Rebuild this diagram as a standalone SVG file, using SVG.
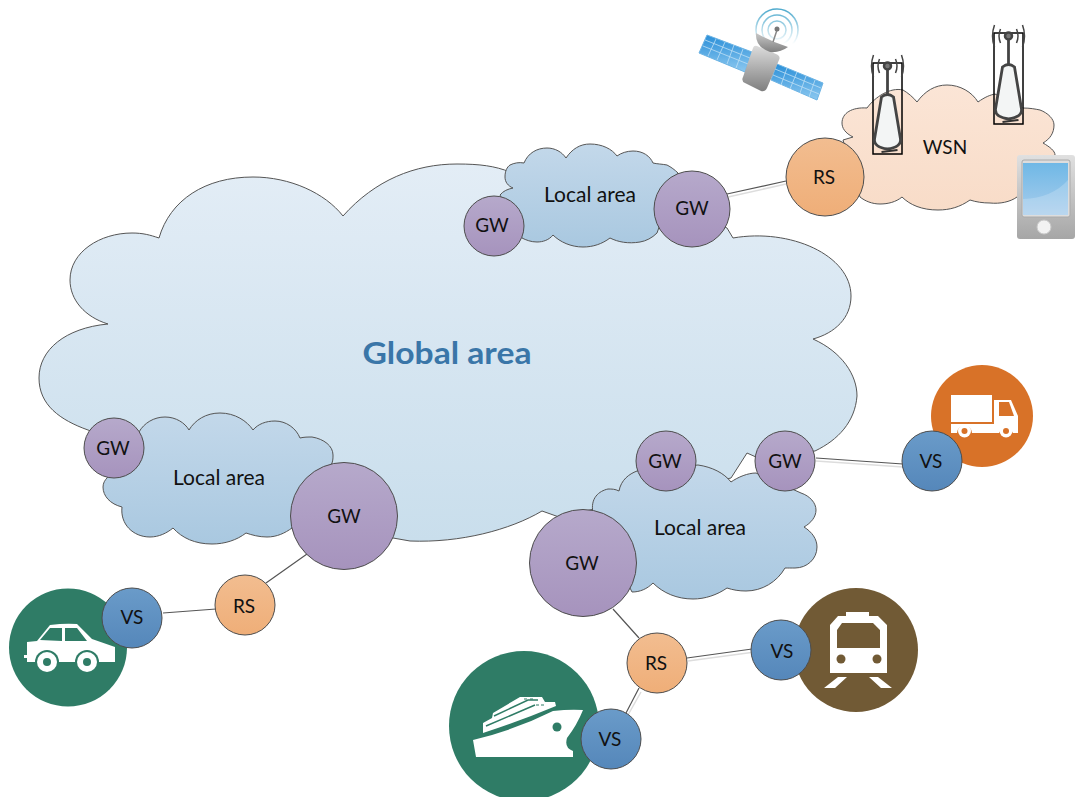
<svg xmlns="http://www.w3.org/2000/svg" width="1081" height="797" viewBox="0 0 1081 797">
<style>
text{font-family:Lato,"Open Sans","Liberation Sans",sans-serif;font-size:19px;fill:#111;text-anchor:middle}
.la{font-size:21px}
.n{stroke:#4d4d4d;stroke-width:1}
.c{stroke:#555;stroke-width:1.2;fill:none}
.p{stroke:#ddd;stroke-width:1.500;fill:none}
.w{fill:#fff}
.cl{stroke:#555;stroke-width:1;stroke-linejoin:miter}
</style>
<defs>
<linearGradient id="gG" x1="0" y1="0" x2="0" y2="1"><stop offset="0" stop-color="#e3edf6"/><stop offset="1" stop-color="#c9deec"/></linearGradient>
<linearGradient id="gL" x1="0" y1="0" x2="0" y2="1"><stop offset="0" stop-color="#c3d8ea"/><stop offset="1" stop-color="#a9c8e0"/></linearGradient>
<linearGradient id="gW" x1="0" y1="0" x2="0" y2="1"><stop offset="0" stop-color="#fbe5d6"/><stop offset="1" stop-color="#f8dcc8"/></linearGradient>
<linearGradient id="gP" x1="0" y1="0" x2="0" y2="1"><stop offset="0" stop-color="#b6a9cb"/><stop offset="1" stop-color="#a693bd"/></linearGradient>
<linearGradient id="gO" x1="0" y1="0" x2="0" y2="1"><stop offset="0" stop-color="#f2bd90"/><stop offset="1" stop-color="#efae78"/></linearGradient>
<linearGradient id="gB" x1="0" y1="0" x2="0" y2="1"><stop offset="0" stop-color="#6a9bc9"/><stop offset="1" stop-color="#5587ba"/></linearGradient>
<linearGradient id="gS" x1="0" y1="0" x2="0" y2="1"><stop offset="0" stop-color="#dcdcdc"/><stop offset="1" stop-color="#7f7f7f"/></linearGradient>
<linearGradient id="gDish" x1="0" y1="0" x2="0" y2="1"><stop offset="0" stop-color="#c8c8c8"/><stop offset="1" stop-color="#808080"/></linearGradient>
<linearGradient id="gT" x1="0" y1="0" x2="0" y2="1"><stop offset="0" stop-color="#6fb8e6"/><stop offset="1" stop-color="#a9cdec"/></linearGradient>
<linearGradient id="gD" x1="0" y1="0" x2="0" y2="1"><stop offset="0" stop-color="#e0e0e0"/><stop offset="1" stop-color="#a6a6a6"/></linearGradient>
<linearGradient id="gPanel" x1="0" y1="0" x2="0" y2="1"><stop offset="0" stop-color="#2a8fd8"/><stop offset="1" stop-color="#8cc8f0"/></linearGradient>
<linearGradient id="gRing" gradientUnits="userSpaceOnUse" x1="0" y1="8" x2="0" y2="44"><stop offset="0" stop-color="#4aa8cc"/><stop offset="1" stop-color="#fff"/></linearGradient>
<g id="tower">
<rect x="-14.500" y="0" width="29" height="91" fill="none" stroke="#000" stroke-width="1.500"/>
<path d="M-6 34Q0 29 6 34L13 76Q14 84 0 86Q-14 84-13 76Z" fill="#f3f5f5" stroke="#444" stroke-width="2.800"/>
<path d="M0 5V31" stroke="#444" stroke-width="2.800"/>
<circle cx="0" cy="3" r="3.500" fill="#777" stroke="#444" stroke-width="2.500"/>
<path d="M-8-4Q-11 3-8 10M8-4Q11 3 8 10M-14-8Q-18 3-14 14M14-8Q18 3 14 14" fill="none" stroke="#444" stroke-width="1.500"/>
<path d="M-6 89L10 87" stroke="#333" stroke-width="2"/>
</g>
</defs>

<g id="global-cloud"><path class="cl" fill="url(#gG)" d="M343 216C375 180 415 164 457 164C480 164 495 166 510 172L660 200L727 228L733 238C790 228 851 255 851 296C851 318 835 333 813 339C842 352 857 375 857 396C855 422 838 440 815 451L756 457L747 453L731 478L559 517L542 511C510 530 460 543 410 541L393 538L88 430C60 420 39 405 39 378C39 350 65 328 108 324C85 317 70 300 70 280C70 252 100 233 132 233C143 233 150 235 159 238C170 200 205 177 253 177C290 177 325 193 343 216Z"/><text x="447" y="364" textLength="169" lengthAdjust="spacingAndGlyphs" style="font-size:30px;font-weight:700;fill:#3a76a8">Global area</text></g>

<g id="wsn-cloud"><path class="cl" fill="url(#gW)" d="M843 140L853 137C845 133 842 128 842 123C842 113 852 107 867 108C875 97 890 87 903 90C908 93 913 97 917 102C925 91 935 85 947 85C960 85 972 92 978 102C985 97 990 95 995 94L1023 108C1030 108 1035 109 1040 110C1048 113 1054 119 1054 125C1054 133 1050 139 1043 143C1050 147 1055 151 1055 155L1017 197C1010 202 1000 204 990 203C983 203 976 202 970 200C960 207 950 210 938 210C922 210 910 205 902 197C896 202 888 204 880 204C872 204 865 201 860 197Z"/><text x="945" y="154">WSN</text></g>

<g id="local-top"><path class="cl" fill="url(#gL)" d="M500 195C503 191 508 189 513 188C508 186 505 182 505 177C505 171 507 167 510 165C514 163 519 162 524 163C528 153 537 148 547 148C555 148 562 152 566 158C572 149 580 144 590 144C602 144 612 149 617 156C621 153 627 151 633 151C643 151 650 156 653 163C657 164 662 164 667 165C671 167 675 170 678 173L657 233C652 238 646 241 640 242C628 244 618 242 610 238C602 244 593 247 583 247C571 247 560 242 553 235C549 240 543 242 537 242C531 242 526 240 522 238Z"/><text class="la" x="590" y="202">Local area</text></g>

<g id="local-left"><path class="cl" fill="url(#gL)" d="M139 432C144 423 154 417 165 417C176 417 185 423 189 430C195 420 206 413 220 413C235 413 247 421 253 430C258 424 266 421 275 421C286 421 296 428 300 438C304 437 308 437 312 437C324 439 333 446 333 455C333 458 333 460 332 463L292 528C285 533 277 537 267 537C259 537 252 535 246 533C237 540 225 544 212 544C195 544 182 538 173 528C167 533 159 537 150 537C133 537 120 524 122 507C110 504 103 496 103 487C103 483 105 480 107 478Z"/><text class="la" x="219" y="485">Local area</text></g>

<g id="local-right"><path class="cl" fill="url(#gL)" d="M593 513C590 498 599 491 608 489C612 489 615 489 619 491C621 480 629 474 637 471L698 465C712 467 724 473 731 482C738 477 748 473 756 473L801 493C810 496 816 503 816 510C816 517 811 523 804 527C812 532 817 539 817 547C817 559 807 568 795 568C791 568 788 568 785 568C777 582 762 591 746 591C739 591 733 590 727 588C717 595 705 599 693 599C677 599 663 593 653 583C647 589 640 592 632 592Z"/><text class="la" x="700" y="535">Local area</text></g>

<g id="connectors">
<path class="c" d="M727 194L786 181M307 554L266 583M163 613L216 609M613 609L639 638M687 658L752 649M639 688L626 713M816 458L903 464"/>
<path class="p" d="M728 197L786 184M688 661L755 652M641 692L628 715M816 461L903 467"/>
</g>

<g id="satellite">
<path d="M707 35L752 52L745 72L699 53Z" fill="url(#gPanel)" stroke="#6db4e4"/>
<path d="M777 64L823 83L817 100L771 80Z" fill="url(#gPanel)" stroke="#6db4e4"/>
<path d="M705 40L750 58M703 46L748 64M716 39L708 56M725 42L717 60M734 45L727 64M743 49L736 68M775 69L821 88M773 75L819 94M787 68L781 85M797 72L790 89M806 76L800 93M815 80L809 97" stroke="#bfe0f5" stroke-width="0.800" fill="none"/>
<path d="M757 46L776 54Q781 56 779 60L767 88Q765 92 761 91L745 83Q741 81 743 77L753 48Q754 45 757 46Z" fill="url(#gS)"/>
<circle cx="777" cy="30" r="21" fill="none" stroke="url(#gRing)" stroke-width="1.500"/>
<circle cx="777" cy="30" r="15" fill="none" stroke="url(#gRing)" stroke-width="1.500"/>
<circle cx="777" cy="30" r="9" fill="none" stroke="url(#gRing)" stroke-width="1.500"/>
<path d="M756 33Q772 42 788 47Q780 53 770 52Q755 47 756 33Z" fill="url(#gDish)"/>
<path d="M777 30L773 42" stroke="#888" stroke-width="1.500"/>
<circle cx="777" cy="29" r="2.500" fill="#777"/>
</g>

<use id="tower-1" href="#tower" x="887.500" y="63"/>
<use id="tower-2" href="#tower" x="1008.500" y="33"/>

<g id="tablet">
<rect x="1017" y="155" width="58" height="84" rx="3" fill="url(#gD)"/>
<rect x="1022" y="160" width="48" height="57" rx="2" fill="#ddd" stroke="#aaa"/>
<rect x="1023" y="163" width="45" height="52" fill="url(#gT)"/>
<path d="M1023 199Q1052 198 1068 180V215H1023Z" fill="#fff" opacity="0.200"/>
<circle cx="1044" cy="227" r="7" fill="#f2f2f2" stroke="#c8c8c8"/>
</g>

<g id="truck-badge"><circle cx="982" cy="416" r="51" fill="#d87228"/>
<path class="w" d="M951 395H992V422H951ZM994 400H1011L1018 416V433H1013A7.500 7.500 0 0 0 999 433H972A7.500 7.500 0 0 0 957 433H951V424H994Z"/><path d="M999 402H1009L1014 416H999Z" fill="#d87228"/><circle cx="964.500" cy="431" r="6.500" fill="#fff"/><circle cx="964.500" cy="431" r="3" fill="#d87228"/><circle cx="1006" cy="431" r="6.500" fill="#fff"/><circle cx="1006" cy="431" r="3" fill="#d87228"/></g>

<g id="car-badge"><circle cx="68" cy="647.500" r="59" fill="#2f7c66"/>
<path class="w" d="M27 642L37 641L50 625Q65 623 77 624L92 639L115 647V662H27V658H24V655H27Z"/><path d="M40 640L50 628H62V641ZM65 628H77L87 641H65Z" fill="#2f7c66"/><circle cx="47" cy="662" r="12" fill="#2f7c66"/><circle cx="87" cy="662" r="12" fill="#2f7c66"/><path d="M20 662H120V672H20Z" fill="#2f7c66"/><circle cx="47" cy="662" r="10" fill="#fff"/><circle cx="47" cy="662" r="4" fill="#2f7c66"/><circle cx="87" cy="662" r="10" fill="#fff"/><circle cx="87" cy="662" r="4" fill="#2f7c66"/></g>

<g id="ship-badge"><circle cx="524" cy="726" r="75" fill="#2f7c66"/>
<path class="w" d="M473 740Q515 730 553 711Q570 709 583 710Q577 725 567 738Q564 748 573 751V757H476Z"/>
<path class="w" d="M483 733V723L492 718L493 713L520 697H542L545 702H555L556 706Q520 721 483 733Z"/>
<path d="M494 716L528 700H538M486 726L535 705" stroke="#2f7c66" stroke-width="1.500" fill="none"/>
<path d="M524 699h3M530 699h3M536 705h3M541 705h3" stroke="#2f7c66" stroke-width="1.200" fill="none"/>
<circle cx="557" cy="727" r="4.500" fill="#2f7c66"/></g>

<g id="train-badge"><circle cx="856" cy="650" r="62" fill="#715a35"/>
<path class="w" fill-rule="evenodd" d="M846 612H869V616H878L887 625V673H830V625L838 616H846ZM842 623L837 630V648H880V630L873 623Z"/><circle cx="841" cy="659" r="4.500" fill="#715a35"/><circle cx="877" cy="659" r="4.500" fill="#715a35"/><path class="w" d="M838 677H847L835 688H824ZM869 677H878L892 688H881Z"/></g>

<g id="gw-1"><circle class="n" cx="494" cy="226" r="30" fill="url(#gP)"/><text x="492" y="232">GW</text></g>
<g id="gw-2"><circle class="n" cx="692" cy="209" r="38" fill="url(#gP)"/><text x="692" y="215">GW</text></g>
<g id="gw-3"><circle class="n" cx="114" cy="448" r="30" fill="url(#gP)"/><text x="113" y="455">GW</text></g>
<g id="gw-4"><circle class="n" cx="344" cy="516" r="53.500" fill="url(#gP)"/><text x="344" y="523">GW</text></g>
<g id="gw-5"><circle class="n" cx="666" cy="461" r="30" fill="url(#gP)"/><text x="665" y="468">GW</text></g>
<g id="gw-6"><circle class="n" cx="785" cy="461" r="30" fill="url(#gP)"/><text x="785" y="468">GW</text></g>
<g id="gw-7"><circle class="n" cx="583" cy="563" r="53.500" fill="url(#gP)"/><text x="582" y="570">GW</text></g>
<g id="rs-1"><circle class="n" cx="825" cy="177" r="39" fill="url(#gO)"/><text x="824" y="184">RS</text></g>
<g id="rs-2"><circle class="n" cx="245" cy="605" r="30" fill="url(#gO)"/><text x="244" y="613">RS</text></g>
<g id="rs-3"><circle class="n" cx="657" cy="663" r="30" fill="url(#gO)"/><text x="656" y="670">RS</text></g>
<g id="vs-1"><circle class="n" cx="932" cy="461" r="30" fill="url(#gB)"/><text x="931" y="468">VS</text></g>
<g id="vs-2"><circle class="n" cx="132" cy="618" r="30" fill="url(#gB)"/><text x="132" y="624">VS</text></g>
<g id="vs-3"><circle class="n" cx="781" cy="650" r="30" fill="url(#gB)"/><text x="782" y="658">VS</text></g>
<g id="vs-4"><circle class="n" cx="611" cy="739" r="30" fill="url(#gB)"/><text x="610" y="746">VS</text></g>
</svg>
